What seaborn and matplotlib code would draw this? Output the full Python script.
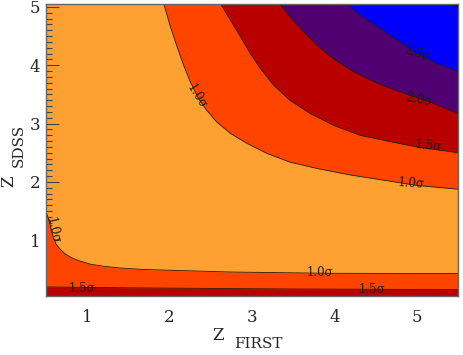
import numpy as np
import pandas as pd
import matplotlib
matplotlib.use("Agg")
import matplotlib.pyplot as plt
import seaborn as sns

# contour boundaries (z_first, z_sdss)
x_10_upper = [1.93, 2.01, 2.09, 2.17, 2.25, 2.35, 2.45, 2.57, 2.74, 2.94, 3.18, 3.46, 3.79, 4.19, 4.60, 5.00, 5.5]
y_10_upper = [5.05, 4.66, 4.32, 4.00, 3.72, 3.43, 3.23, 3.03, 2.83, 2.66, 2.49, 2.34, 2.23, 2.12, 2.03, 1.94, 1.875]
x_15_upper = [2.62, 2.74, 2.86, 2.98, 3.10, 3.26, 3.46, 3.71, 3.99, 4.31, 4.68, 5.00, 5.5]
y_15_upper = [5.05, 4.77, 4.49, 4.20, 3.95, 3.66, 3.40, 3.17, 2.97, 2.80, 2.69, 2.60, 2.50]
x_20_upper = [3.34, 3.46, 3.63, 3.79, 3.99, 4.23, 4.52, 4.84, 5.16, 5.5]
y_20_upper = [5.05, 4.83, 4.57, 4.34, 4.11, 3.89, 3.69, 3.52, 3.37, 3.17]
x_25_upper = [4.15, 4.31, 4.52, 4.76, 5.00, 5.24, 5.5]
y_25_upper = [5.05, 4.86, 4.66, 4.43, 4.20, 4.03, 3.89]
x_30_upper = [5.43, 5.5]
y_30_upper = [5.05, 4.97]
x_10_lower = [0.5, 0.53, 0.55, 0.57, 0.59, 0.62, 0.67, 0.73, 0.81, 0.92, 1.04, 1.20, 1.40,
              1.64, 1.89, 2.74, 3.95, 5.5]
y_10_lower = [1.49, 1.37, 1.26, 1.14, 1.05, 0.94, 0.85, 0.77, 0.70, 0.64, 0.59, 0.554, 0.525,
              0.503, 0.491, 0.456, 0.434, 0.43]
x_15_lower = [0.5, 1.5, 2.5, 3.5, 4.5, 5.5]
y_15_lower = [0.20, 0.185, 0.175, 0.165, 0.16, 0.155]

# contour labels: text, x, y, angle
label_text = ["1.0σ", "2.5σ", "2.0σ", "1.5σ", "1.0σ", "1.0σ", "1.5σ", "1.5σ", "1.0σ"]
label_x = [2.33, 5.00, 5.03, 5.14, 4.93, 3.83, 4.46, 0.94, 0.58]
label_y = [3.46, 4.20, 3.40, 2.61, 1.98, 0.45, 0.16, 0.18, 1.17]
label_rot = [-58, -18, -10, -6, -4, 0, 0, 0, -78]

XMIN, XMAX, YMIN, YMAX = 0.5, 5.5, 0.045, 5.05

c_in = "#ffa033"
c_10 = "#ff4400"
c_15 = "#b80000"
c_20 = "#500070"
c_25 = "#0000ff"
c_30 = "#000060"

sns.set_style("ticks")
plt.rcParams["font.family"] = ["DejaVu Serif"]

fig = plt.figure(figsize=(4.63, 3.55), dpi=100)
ax = fig.add_axes([46 / 463, 1 - 296 / 355, 412 / 463, 292 / 355])

ax.add_patch(plt.Rectangle((XMIN, YMIN), XMAX - XMIN, YMAX - YMIN, color=c_in, zorder=0))

# upper-right bands: curve + top right corner
for xs, ys, col in [(x_10_upper, y_10_upper, c_10), (x_15_upper, y_15_upper, c_15),
                    (x_20_upper, y_20_upper, c_20), (x_25_upper, y_25_upper, c_25),
                    (x_30_upper, y_30_upper, c_30)]:
    ax.fill(list(xs) + [XMAX], list(ys) + [YMAX], color=col, lw=0, zorder=1)

# bottom bands
ax.fill_between(x_10_lower, YMIN, y_10_lower, color=c_10, lw=0, zorder=1)
ax.fill_between(x_15_lower, YMIN, y_15_lower, color=c_15, lw=0, zorder=1)

rows = []
for name, xs, ys in [("u10", x_10_upper, y_10_upper), ("u15", x_15_upper, y_15_upper),
                     ("u20", x_20_upper, y_20_upper), ("u25", x_25_upper, y_25_upper),
                     ("u30", x_30_upper, y_30_upper),
                     ("l10", x_10_lower, y_10_lower), ("l15", x_15_lower, y_15_lower)]:
    for a, b in zip(xs, ys):
        rows.append({"curve": name, "x": a, "y": b})
lines = pd.DataFrame(rows)
sns.lineplot(data=lines, x="x", y="y", units="curve", estimator=None, sort=False,
             color="#2a1a08", lw=0.6, ax=ax, zorder=2)

for t, lx, ly, r in zip(label_text, label_x, label_y, label_rot):
    ax.text(lx, ly, t, fontsize=8.5, rotation=r, ha="center", va="center",
            color="#1a1a1a", zorder=3, rotation_mode="anchor")

ax.set_xlim(XMIN, XMAX)
ax.set_ylim(YMIN, YMAX)
ax.set_xticks([1, 2, 3, 4, 5])
ax.set_yticks([1, 2, 3, 4, 5])
ax.set_xticks(np.arange(0.6, 5.5, 0.1), minor=True)
ax.set_yticks(np.arange(0.1, 5.05, 0.1), minor=True)
ax.tick_params(which="both", direction="in", color="#444444", width=0.8,
               top=False, right=False, labelsize=12)
ax.tick_params(which="major", length=9)
ax.tick_params(which="minor", length=4.5)
ax.tick_params(axis="x", pad=9)
ax.tick_params(axis="y", pad=4)
ax.set_xlabel("")
ax.set_ylabel("")
for s in ax.spines.values():
    s.set_color("#666666")
    s.set_linewidth(1)
    s.set_visible(True)

fig.text(218 / 463, 1 - 336 / 355, "Z", fontsize=12, ha="center", va="center")
fig.text(258 / 463, 1 - 344 / 355, "FIRST", fontsize=11, ha="center", va="center")
fig.text(9 / 463, 1 - 181 / 355, "Z", fontsize=12, ha="center", va="center", rotation=90)
fig.text(18.5 / 463, 1 - 145 / 355, "SDSS", fontsize=11, ha="center", va="center", rotation=90)

fig.savefig("out.png", dpi=100)
